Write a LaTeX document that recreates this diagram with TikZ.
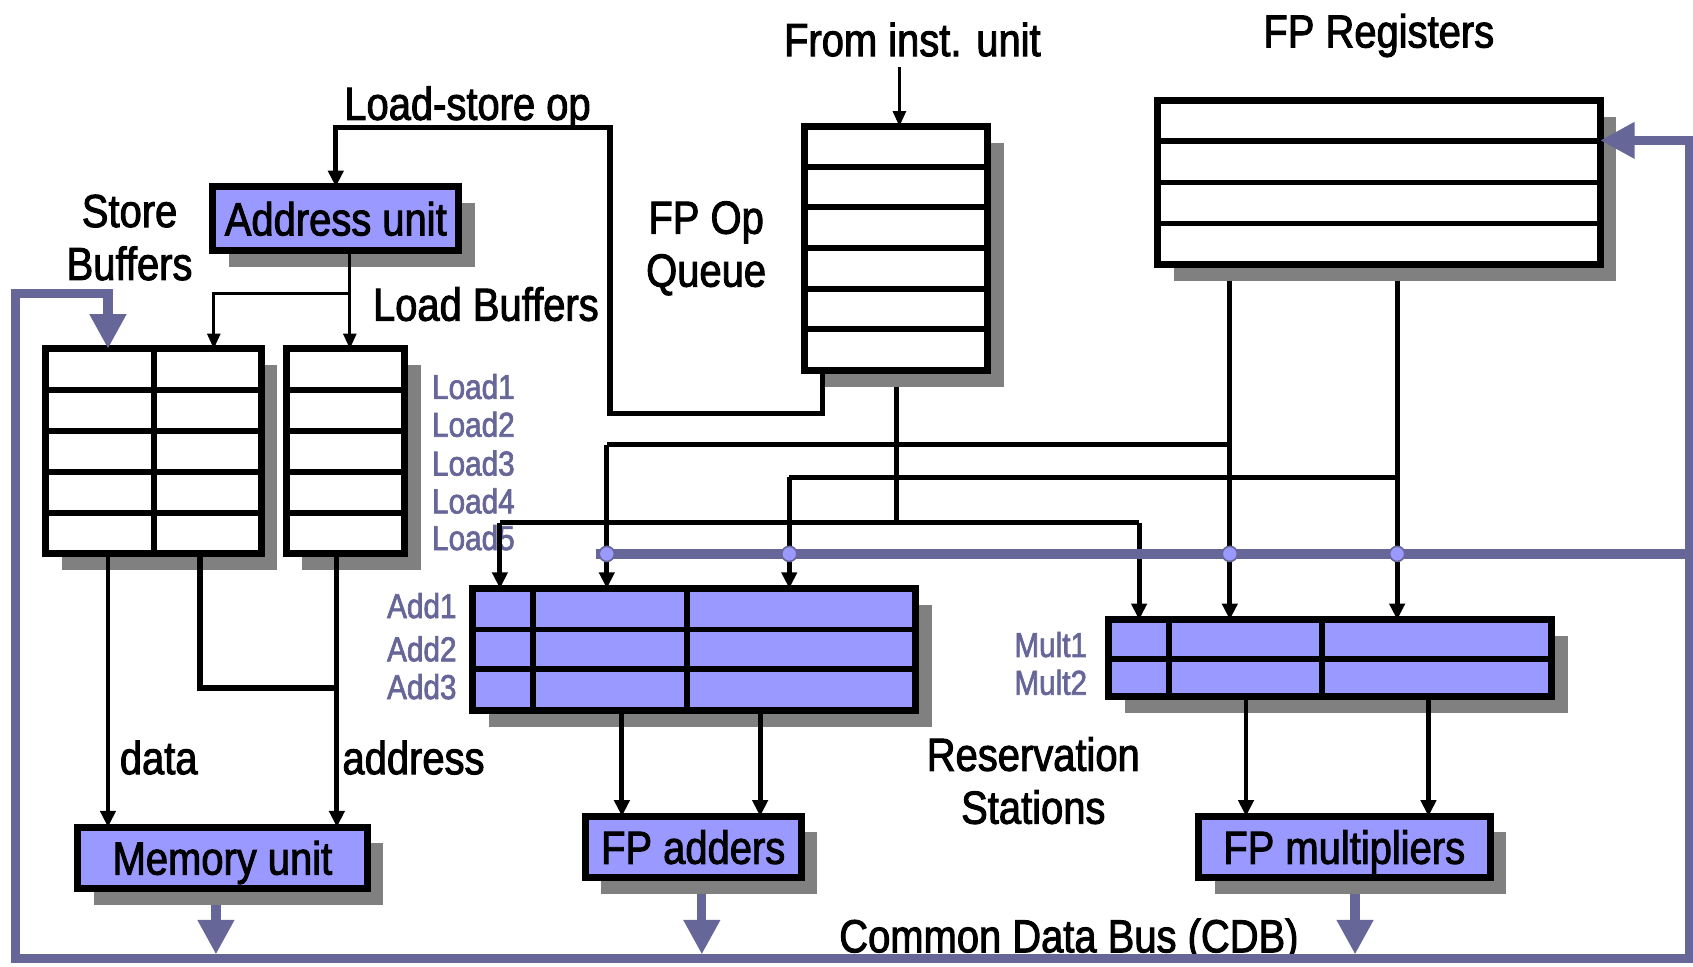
\documentclass[tikz,border=0pt]{standalone}
\usepackage{fontspec}
\setmainfont{Liberation Sans}[FakeStretch=0.86,FakeBold=2]
\usetikzlibrary{arrows.meta,shadows}
\definecolor{boxfill}{HTML}{9999FF}
\definecolor{cdbcol}{HTML}{666699}
\definecolor{shadecol}{HTML}{808080}
\newcommand\lblfont{\fontsize{43}{49}\selectfont}
\newcommand\smlfont{\fontsize{32}{34}\selectfont}
\begin{document}
\begin{tikzpicture}[x=1pt,y=-1pt,
  shd/.style={drop shadow={shadow xshift=15pt,shadow yshift=-15pt,fill=shadecol,opacity=1}},
  tbl/.style={draw=black,line width=6.5pt,fill=white,inner sep=0pt,outer sep=0pt,anchor=north west,shd},
  unitbox/.style={tbl,fill=boxfill,font=\lblfont,text height=31pt,text depth=0pt},
  rowline/.style={line width=5.5pt},
  lbl/.style={font=\lblfont,inner sep=0pt,align=center},
  sml/.style={font=\smlfont,text=cdbcol,inner sep=0pt},
  conn/.style={line width=4.5pt,-{Triangle[length=15pt,width=14pt]}},
  thinconn/.style={line width=2.5pt,-{Triangle[length=14pt,width=12pt]}},
  wire/.style={line width=4.5pt},
  bus/.style={line width=8.5pt,draw=cdbcol},
  busarrow/.style={line width=8.5pt,draw=cdbcol,-{Triangle[length=32pt,width=32pt]}},
  dot/.style={circle,fill=boxfill,draw=cdbcol,line width=1.5pt,minimum size=14pt,inner sep=0pt}
]
\useasboundingbox (0,0) rectangle (1568,895);

% ---------- boxes ----------
\node[tbl,minimum width=170pt,minimum height=226pt] (queue) at (745,117) {};
\foreach \yy in {155,192,230,268,305} \draw[rowline] (745,\yy) -- (915,\yy);

\node[tbl,minimum width=410pt,minimum height=152pt] (regs) at (1072,93) {};
\foreach \yy in {131,169,207} \draw[rowline] (1072,\yy) -- (1482,\yy);

\node[unitbox,minimum width=228pt,minimum height=59pt] (addr) at (197,173) {Address unit};

\node[tbl,minimum width=200pt,minimum height=190pt] (store) at (42,323) {};
\foreach \yy in {361,399,437,475} \draw[rowline] (42,\yy) -- (242,\yy);
\draw[rowline] (143,323) -- (143,513);

\node[tbl,minimum width=110pt,minimum height=190pt] (load) at (265,323) {};
\foreach \yy in {361,399,437,475} \draw[rowline] (265,\yy) -- (375,\yy);

\node[tbl,fill=boxfill,minimum width=410pt,minimum height=113pt] (addrs) at (438,545) {};
\foreach \yy in {583,620} \draw[rowline] (438,\yy) -- (848,\yy);
\foreach \xx in {494,636} \draw[rowline] (\xx,545) -- (\xx,658);

\node[tbl,fill=boxfill,minimum width=410pt,minimum height=71pt] (mults) at (1027,574) {};
\draw[rowline] (1027,610) -- (1437,610);
\foreach \xx in {1083,1224} \draw[rowline] (\xx,574) -- (\xx,645);

\node[unitbox,minimum width=268pt,minimum height=57pt] (mem) at (72,766) {Memory unit};
\node[unitbox,minimum width=200pt,minimum height=57pt] (fpadd) at (542,756) {FP adders};
\node[unitbox,minimum width=270pt,minimum height=57pt] (fpmul) at (1110,756) {FP multipliers};

% ---------- labels ----------
\node[lbl,anchor=base] (tinst) at (845,52) {From inst. unit};
\node[lbl,anchor=base] (tregs) at (1277,44) {FP Registers};
\node[lbl,anchor=base] (tls) at (433,111) {Load-store op};
\node[lbl] (tstore) at (120,220) {Store\\Buffers};
\node[lbl] (tqueue) at (654,230) {FP Op\\Queue};
\node[lbl,anchor=base] (tlb) at (450,297) {Load Buffers};
\node[sml,anchor=west] (l1) at (400,358) {Load1};
\node[sml,anchor=west] (l2) at (400,393) {Load2};
\node[sml,anchor=west] (l3) at (400,429) {Load3};
\node[sml,anchor=west] (l4) at (400,464) {Load4};
\node[sml,anchor=west] (l5) at (400,498) {Load5};
\node[sml,anchor=east] (a1) at (423,561) {Add1};
\node[sml,anchor=east] (a2) at (423,601) {Add2};
\node[sml,anchor=east] (a3) at (423,636) {Add3};
\node[sml,anchor=east] (m1) at (1007,597) {Mult1};
\node[sml,anchor=east] (m2) at (1007,632) {Mult2};
\node[lbl,anchor=base] (tdata) at (147,717) {data};
\node[lbl,anchor=base] (taddress) at (383,717) {address};
\node[lbl] (trs) at (957,723) {Reservation\\Stations};
\node[lbl,anchor=base] (tcdb) at (990,882) {Common Data Bus (CDB)};

% ---------- coordinates ----------
\coordinate (inst) at (833,62);
\coordinate (ls) at (565,118);
\coordinate (lsq) at (762,383);
\coordinate (abr) at (324,272);
\coordinate (sd) at (100,513);
\coordinate (sj) at (185,513);
\coordinate (ld) at (312,513);
\coordinate (jn) at (312,637);
\coordinate (qd) at (830,484);
\coordinate (qa) at (463,484);
\coordinate (qm) at (1055,484);
\coordinate (r1) at (1139,412);
\coordinate (r2) at (1294,442);
\coordinate (ra1) at (562,412);
\coordinate (ra2) at (731,442);
\coordinate (ax1) at (576,0);
\coordinate (ax2) at (704,0);
\coordinate (mx1) at (1154,0);
\coordinate (mx2) at (1323,0);
\coordinate (ob1) at (200,0);
\coordinate (ob2) at (650,0);
\coordinate (ob3) at (1255,0);
\coordinate (rtop) at (1565,130);
\coordinate (cdbR) at (1565,888);
\coordinate (cdbL) at (14,888);
\coordinate (ltop) at (14,272);
\coordinate (sbin) at (100,272);
\coordinate (busL) at (552,513);

% ---------- black connectors ----------
\draw[thinconn] (inst) -- (inst |- queue.north);
\draw[conn,line width=5pt] (lsq |- queue.south) -- (lsq) -| (ls) -| (addr.north);
\draw[thinconn] (addr.south -| abr) -- (abr |- load.north);
\draw[thinconn] (abr) -| ([xshift=156pt]store.north west);

\draw[conn] (sd) -- (sd |- mem.north);
\draw[wire,line width=5.5pt] (sj) |- (jn);
\draw[conn] (ld) -- (ld |- mem.north);

\draw[wire] ([yshift=-15pt]qd |- queue.south) -- (qd);
\draw[wire] (qa) -- (qm);
\draw[conn] (qa) -- (qa |- addrs.north);
\draw[conn] (qm) -- (qm |- mults.north);

\draw[conn] ([yshift=-15pt]r1 |- regs.south) -- (r1 |- mults.north);
\draw[conn] ([yshift=-15pt]r2 |- regs.south) -- (r2 |- mults.north);
\draw[wire] (r1) -- (ra1);
\draw[wire] (r2) -- (ra2);
\draw[conn] (ra1) -- (ra1 |- addrs.north);
\draw[conn] (ra2) -- (ra2 |- addrs.north);

\draw[conn] (addrs.south -| ax1) -- (ax1 |- fpadd.north);
\draw[conn] (addrs.south -| ax2) -- (ax2 |- fpadd.north);
\draw[conn] (mults.south -| mx1) -- (mx1 |- fpmul.north);
\draw[conn] (mults.south -| mx2) -- (mx2 |- fpmul.north);

% ---------- common data bus ----------
\draw[bus,line width=10pt] (busL) -- (busL -| cdbR);
\draw[bus,{Triangle[length=32pt,width=32pt]}-{Triangle[length=32pt,width=32pt]}]
  (rtop -| regs.east) -- (rtop) -- (cdbR) -- (cdbL) -- (ltop) -- (sbin) -- (sbin |- store.north);
\draw[busarrow] ([yshift=-15pt]mem.south -| ob1) -- ([yshift=4pt]ob1 |- cdbL);
\draw[busarrow] ([yshift=-15pt]fpadd.south -| ob2) -- ([yshift=4pt]ob2 |- cdbL);
\draw[busarrow] ([yshift=-15pt]fpmul.south -| ob3) -- ([yshift=4pt]ob3 |- cdbL);

\node[dot] (d1) at (ra1 |- busL) {};
\node[dot] (d2) at (ra2 |- busL) {};
\node[dot] (d3) at (r1 |- busL) {};
\node[dot] (d4) at (r2 |- busL) {};
\end{tikzpicture}
\end{document}
